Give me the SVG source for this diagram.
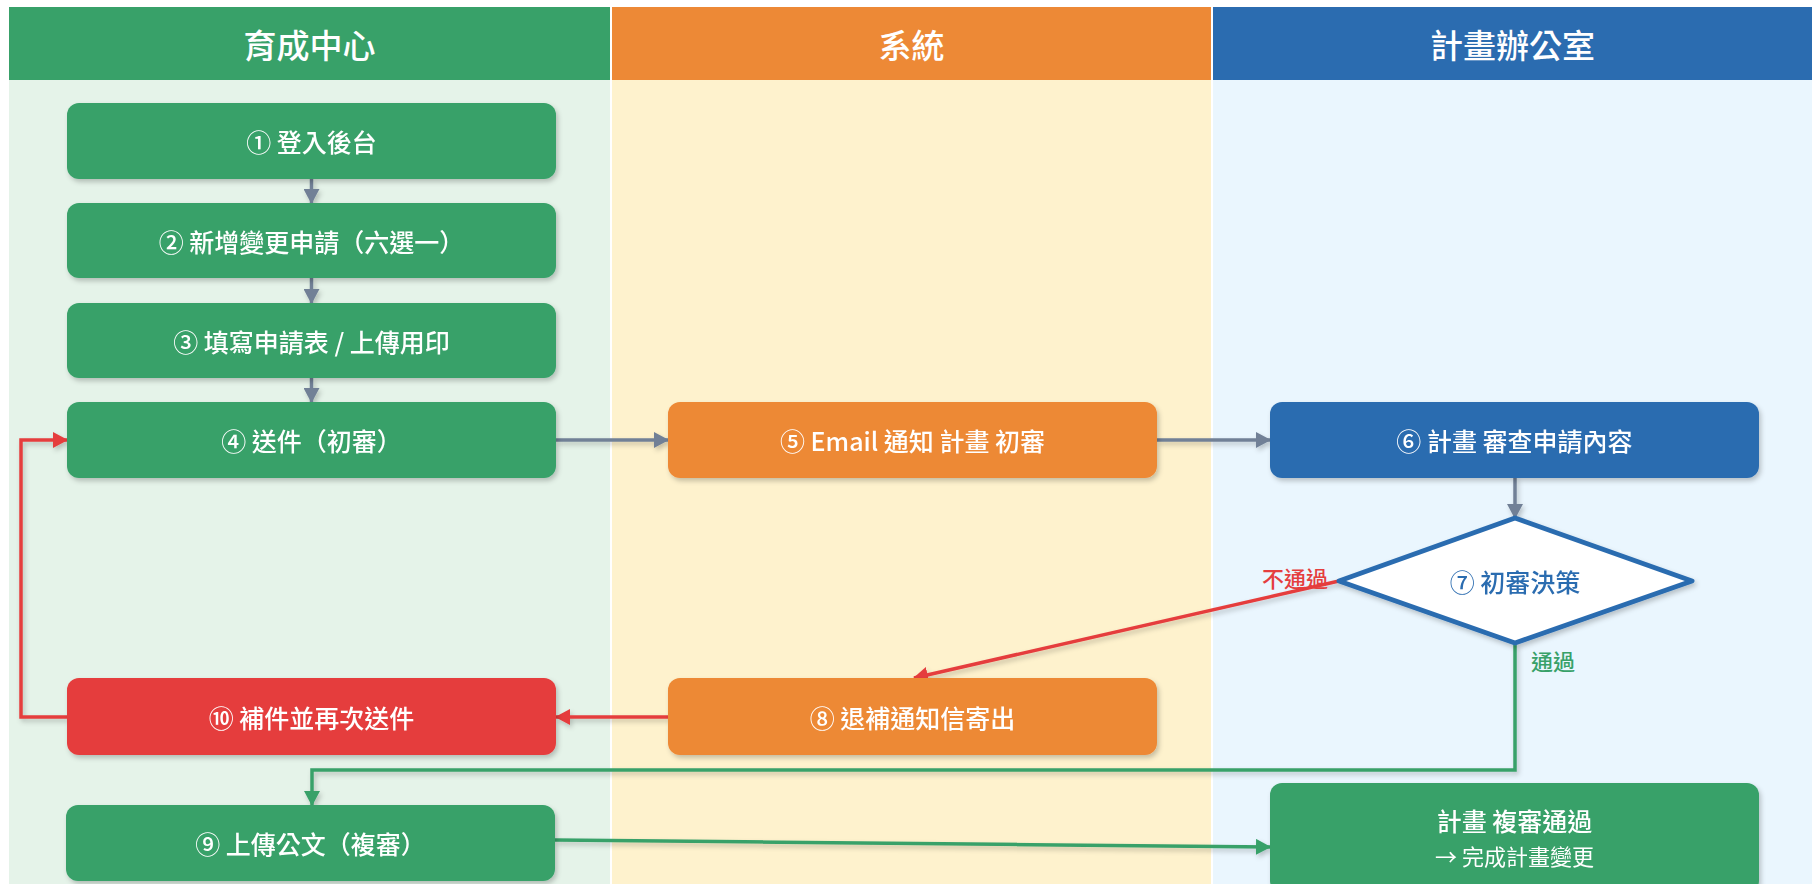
<svg xmlns="http://www.w3.org/2000/svg" width="1812" height="884" viewBox="0 0 1812 884">
<defs>
<style>
.hd{font-family:"Noto Sans CJK TC","Noto Sans CJK SC",sans-serif;font-size:33px;font-weight:500;fill:#fff;text-anchor:middle;dominant-baseline:central}
.t{font-family:"Noto Sans CJK TC","Noto Sans CJK SC",sans-serif;font-size:25px;font-weight:500;fill:#fff;text-anchor:middle;dominant-baseline:central}
.t2{font-family:"Noto Sans CJK TC","Noto Sans CJK SC",sans-serif;font-size:22px;font-weight:normal;fill:#fff;text-anchor:middle;dominant-baseline:central}
.lbl{font-family:"Noto Sans CJK TC","Noto Sans CJK SC",sans-serif;font-size:22px;font-weight:500;dominant-baseline:central}
.g{fill:#38a169}.o{fill:#ed8936}.b{fill:#2b6cb0}.r{fill:#e53e3e}
.ln{fill:none;stroke-width:3.5}
.gray{stroke:#718096}.red{stroke:#e53e3e}.grn{stroke:#38a169}
</style>
<filter id="sh" x="-10%" y="-10%" width="130%" height="140%">
<feDropShadow dx="2" dy="3" stdDeviation="2.5" flood-color="#000" flood-opacity="0.22"/>
</filter>
<marker id="ag" markerUnits="userSpaceOnUse" markerWidth="15" markerHeight="16" refX="14" refY="8" orient="auto"><path d="M0,0 L15,8 L0,16 z" fill="#718096"/></marker>
<marker id="ar" markerUnits="userSpaceOnUse" markerWidth="15" markerHeight="16" refX="14" refY="8" orient="auto"><path d="M0,0 L15,8 L0,16 z" fill="#e53e3e"/></marker>
<marker id="an" markerUnits="userSpaceOnUse" markerWidth="15" markerHeight="16" refX="14" refY="8" orient="auto"><path d="M0,0 L15,8 L0,16 z" fill="#38a169"/></marker>
</defs>
<rect width="1812" height="884" fill="#fff"/>
<g id="lanes">
<rect x="9" y="80" width="601" height="804" fill="#e5f3e9"/>
<rect x="612" y="80" width="599" height="804" fill="#fef2cd"/>
<rect x="1213" y="80" width="599" height="804" fill="#eaf6fe"/>
<rect x="9" y="7" width="601" height="73" class="g"/>
<rect x="612" y="7" width="599" height="73" class="o"/>
<rect x="1213" y="7" width="599" height="73" class="b"/>
<text class="hd" x="309.5" y="43.5">育成中心</text>
<text class="hd" x="911.5" y="43.5">系統</text>
<text class="hd" x="1512.5" y="43.5">計畫辦公室</text>
</g>
<g id="connectors" filter="url(#sh)">
<path class="ln gray" d="M311.5 179 V203" marker-end="url(#ag)"/>
<path class="ln gray" d="M311.5 278 V303" marker-end="url(#ag)"/>
<path class="ln gray" d="M311.5 378 V402" marker-end="url(#ag)"/>
<path class="ln gray" d="M556 440 H668" marker-end="url(#ag)"/>
<path class="ln gray" d="M1157 440 H1270" marker-end="url(#ag)"/>
<path class="ln gray" d="M1515 477 V518" marker-end="url(#ag)"/>
<path class="ln red" d="M1339 581 L914 678" marker-end="url(#ar)"/>
<path class="ln grn" d="M1515 644 V770 H312 V805" marker-end="url(#an)"/>
<path class="ln red" d="M668 717 H556" marker-end="url(#ar)"/>
<path class="ln red" d="M67 717 H21 V440 H67" marker-end="url(#ar)"/>
<path class="ln grn" d="M555 840 L1270 847" marker-end="url(#an)"/>
</g>
<g id="n1" filter="url(#sh)"><rect x="67" y="103" width="489" height="76" rx="12" class="g"/><text class="t" x="311.5" y="141">① 登入後台</text></g>
<g id="n2" filter="url(#sh)"><rect x="67" y="203" width="489" height="75" rx="12" class="g"/><text class="t" x="311.5" y="240.5">② 新增變更申請（六選一）</text></g>
<g id="n3" filter="url(#sh)"><rect x="67" y="303" width="489" height="75" rx="12" class="g"/><text class="t" x="311.5" y="340.5">③ 填寫申請表 / 上傳用印</text></g>
<g id="n4" filter="url(#sh)"><rect x="67" y="402" width="489" height="76" rx="12" class="g"/><text class="t" x="311.5" y="440">④ 送件（初審）</text></g>
<g id="n5" filter="url(#sh)"><rect x="668" y="402" width="489" height="76" rx="12" class="o"/><text class="t" x="912.5" y="440">⑤ Email 通知 計畫 初審</text></g>
<g id="n6" filter="url(#sh)"><rect x="1270" y="402" width="489" height="76" rx="12" class="b"/><text class="t" x="1514.5" y="440">⑥ 計畫 審查申請內容</text></g>
<g id="n7" filter="url(#sh)"><polygon points="1515,518 1692,581 1515,643 1339,581" fill="#fff" stroke="#2b6cb0" stroke-width="5" stroke-linejoin="round"/><text class="t" x="1515" y="581" style="fill:#2b6cb0">⑦ 初審決策</text></g>
<g id="n8" filter="url(#sh)"><rect x="668" y="678" width="489" height="77" rx="12" class="o"/><text class="t" x="912.5" y="716.5">⑧ 退補通知信寄出</text></g>
<g id="n10" filter="url(#sh)"><rect x="67" y="678" width="489" height="77" rx="12" class="r"/><text class="t" x="311.5" y="716.5">⑩ 補件並再次送件</text></g>
<g id="n9" filter="url(#sh)"><rect x="66" y="805" width="489" height="76" rx="12" class="g"/><text class="t" x="310.5" y="843">⑨ 上傳公文（複審）</text></g>
<g id="n11" filter="url(#sh)"><rect x="1270" y="783" width="489" height="110" rx="12" class="g"/><text class="t" x="1514.5" y="820">計畫 複審通過</text><text class="t2" x="1514.5" y="855">→ 完成計畫變更</text></g>
<g id="labels">
<text class="lbl" x="1328" y="577" text-anchor="end" fill="#e53e3e">不通過</text>
<text class="lbl" x="1531" y="660" fill="#38a169">通過</text>
</g>
</svg>
